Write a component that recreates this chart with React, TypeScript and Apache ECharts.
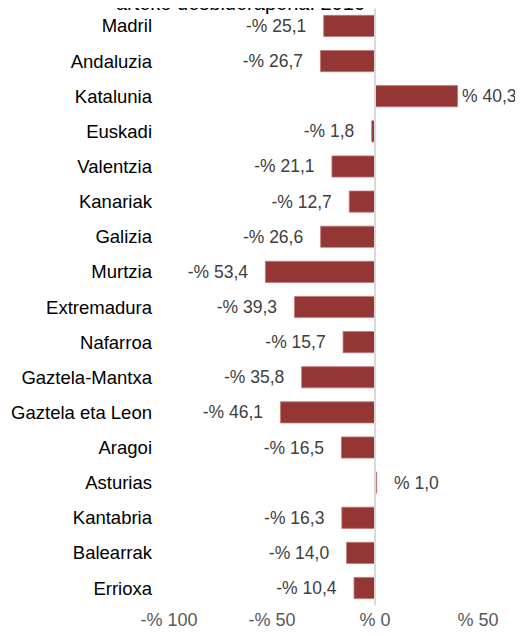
import React, { useEffect, useRef } from "react";
import * as echarts from "echarts";

const categories = [
  "Madril",
  "Andaluzia",
  "Katalunia",
  "Euskadi",
  "Valentzia",
  "Kanariak",
  "Galizia",
  "Murtzia",
  "Extremadura",
  "Nafarroa",
  "Gaztela-Mantxa",
  "Gaztela eta Leon",
  "Aragoi",
  "Asturias",
  "Kantabria",
  "Balearrak",
  "Errioxa",
];

const values = [
  -25.1, -26.7, 40.3, -1.8, -21.1, -12.7, -26.6, -53.4, -39.3, -15.7, -35.8,
  -46.1, -16.5, 1.0, -16.3, -14.0, -10.4,
];

const titleText = "arteko desbiderapena. 2016";

const fmt = (v: number) => {
  const s = Math.abs(v).toFixed(1).replace(".", ",");
  return (v < 0 ? "-% " : "% ") + s;
};

export default function App() {
  const ref = useRef<HTMLDivElement>(null);
  useEffect(() => {
    if (!ref.current) return;
    const chart = echarts.init(ref.current, undefined, { renderer: "svg" });
    const font = "Arial, 'Liberation Sans', Helvetica, sans-serif";
    chart.setOption({
      animation: false,
      textStyle: { fontFamily: font },
      graphic: [
        {
          type: "text",
          x: 365,
          y: 2.5,
          style: {
            text: titleText,
            fontSize: 20,
            fontFamily: font,
            fill: "#000",
            align: "right",
            verticalAlign: "middle",
          },
        },
      ],
      grid: { left: 169, right: 45, top: 8.4, bottom: 29.4, containLabel: false },
      xAxis: {
        type: "value",
        min: -100,
        max: 50,
        interval: 50,
        axisLine: { show: false },
        axisTick: { show: false },
        splitLine: { show: false },
        axisLabel: {
          fontSize: 18,
          color: "#595959",
          margin: 5,
          formatter: (v: number) => fmt(v).replace(",0", ""),
        },
      },
      yAxis: {
        type: "category",
        data: categories,
        inverse: true,
        axisLine: { show: false },
        axisTick: { show: false },
        axisLabel: { fontSize: 18.5, color: "#000", margin: 17 },
      },
      series: [
        {
          type: "bar",
          barWidth: 22,
          data: values.map((v, i) => ({
            value: v,
            label: {
              position: v < 0 ? "left" : "right",
              distance: categories[i] === "Katalunia" ? 4 : 17,
            },
          })),
          itemStyle: { color: "#943634", borderColor: "#c07a78", borderWidth: 0.8 },
          label: {
            show: true,
            fontSize: 17.5,
            color: "#404040",
            formatter: (p: any) => fmt(p.value),
          },
          markLine: {
            silent: true,
            symbol: "none",
            label: { show: false },
            lineStyle: { color: "#d9d9d9", width: 2, type: "solid" },
            data: [{ xAxis: 0 }],
          },
        },
      ],
    });
    return () => chart.dispose();
  }, []);
  return <div ref={ref} style={{ width: 523, height: 635, margin: -8 }} />;
}
